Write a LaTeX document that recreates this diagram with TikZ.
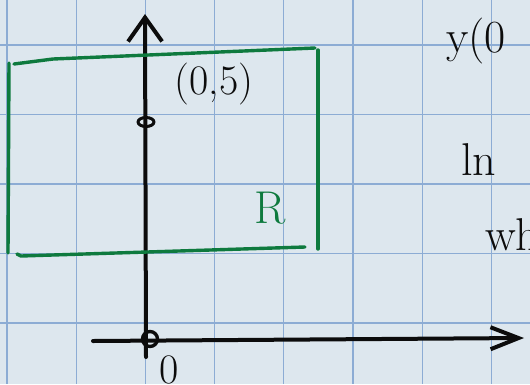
\documentclass[tikz,border=0pt]{standalone}
\usepackage{tikz}
\usetikzlibrary{arrows.meta, shapes.geometric}
\definecolor{paper}{RGB}{221,231,238}
\definecolor{gridblue}{RGB}{140,172,212}
\definecolor{penink}{RGB}{12,12,12}
\definecolor{pengreen}{RGB}{14,122,62}
\tikzset{
  ink/.style={draw=penink, line width=4pt, line cap=round, line join=round},
  region/.style={draw=pengreen, line width=3.4pt, line cap=round},
  hand/.style={font=\fontsize{42}{46}\selectfont, text=penink, inner sep=0pt}
}
\begin{document}
\begin{tikzpicture}[x=1pt,y=-1pt]
\useasboundingbox (0,0) rectangle (530,384);
\fill[paper] (0,0) rectangle (530,384);
% squared paper
\foreach \i in {0,...,7} \draw[gridblue, line width=1.3pt] (7+69.2*\i,0) -- (7+69.2*\i,384);
\foreach \j in {0,...,5} \draw[gridblue, line width=1.3pt] (0,45+69.5*\j) -- (530,45+69.5*\j);

% axes
\coordinate (ybot) at (146,357);
\coordinate (ytop) at (145,14);
\coordinate (xleft) at (93,341);
\coordinate (xright) at (524,338);
\draw[ink, -{Straight Barb[length=24pt, width=34pt, line width=4pt]}] (ybot) -- (ytop);
\draw[ink, -{Straight Barb[length=28pt, width=22pt, line width=4pt]}] (xleft) -- (xright);

% points on the y axis
\node[ink, circle, minimum size=15pt, inner sep=0pt, fill=none, line width=3.4pt] (origin) at (150,339) {};
\node[ink, ellipse, minimum width=16pt, minimum height=9pt, inner sep=0pt, line width=3pt] (pfive) at (146,122) {};
\node[hand] (zero) at (169,370) {0};
\node[hand] (pfivelbl) at (214,84) {(0,5)};

% region R
\draw[region] (9,63) -- (8,253);
\draw[region] (14,64) -- (53,59) -- (315,48);
\draw[region] (318,50) -- (318,249);
\draw[region] (17,254) -- (21,256) -- (305,247);
\node[hand, text=pengreen, font=\fontsize{46}{50}\selectfont] (rlbl) at (270,208) {R};

% notes cut off at the right edge
\node[hand, anchor=base west, font=\fontsize{46}{50}\selectfont] (ynote) at (446,52) {y(0};
\node[hand, anchor=base west, font=\fontsize{46}{50}\selectfont] (lnnote) at (461,175) {ln};
\node[hand, anchor=base west, font=\fontsize{46}{50}\selectfont] (whnote) at (485,250) {wh};
\end{tikzpicture}
\end{document}
